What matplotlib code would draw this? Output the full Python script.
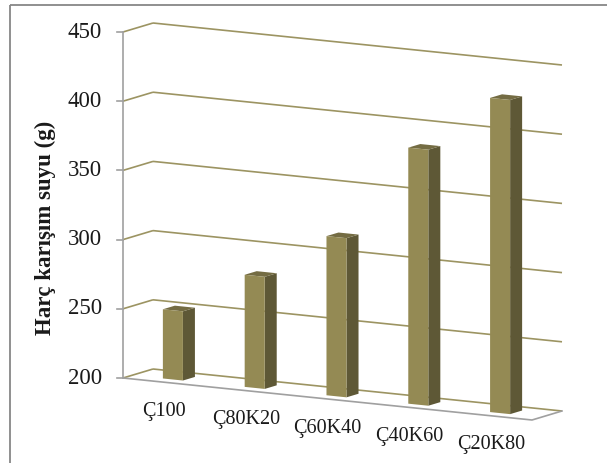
import numpy as np
import matplotlib.pyplot as plt
from matplotlib.patches import Polygon, Rectangle

# data
categories = ["Ç100", "Ç80K20", "Ç60K40", "Ç40K60", "Ç20K80"]
water = [250, 281, 315, 385, 427]
yticks = [200, 250, 300, 350, 400, 450]
ylabel = "Harç karışım suyu (g)"

# oblique "3D" projection in pixel space (Excel style column chart)
X0, Y0 = 123, 378          # front-left corner of the floor
CAT_DX, CAT_DY = 81.8, 8.4  # one category step
V_SCALE = 1.384            # px per unit
DEP_X, DEP_Y = 30, -9      # full depth step
VMIN = yticks[0]


def proj(c, v, d):
    c, v, d = np.broadcast_arrays(np.asarray(c, float), np.asarray(v, float),
                                  np.asarray(d, float))
    x = X0 + CAT_DX * c + DEP_X * d
    y = Y0 + CAT_DY * c - V_SCALE * (v - VMIN) + DEP_Y * d
    return np.column_stack([x, y])


front_col = "#948a54"
side_col = "#5e5836"
top_col = "#746c43"
grid_col = "#9c9462"
axis_col = "#a0a0a0"

plt.rcParams['font.family'] = ['Liberation Serif', 'DejaVu Serif']

fig = plt.figure(figsize=(6.07, 4.63), dpi=100)
ax = fig.add_axes([0, 0, 1, 1])
ax.set_xlim(0, 607)
ax.set_ylim(463, 0)
ax.axis('off')

# chart border
ax.add_patch(Rectangle((10, 5), 640, 500, fill=False, ec="#878787", lw=1.3))

n = len(categories)

# walls gridlines
for v in yticks:
    side = proj([0, 0], [v, v], [0, 1])
    back = proj([0, n], [v, v], [1, 1])
    ax.plot(side[:, 0], side[:, 1], color=grid_col, lw=1.2, solid_capstyle='butt')
    ax.plot(back[:, 0], back[:, 1], color=grid_col, lw=1.2, solid_capstyle='butt')

# floor front and right edges
floor = proj([0, n, n], [VMIN] * 3, [0, 0, 1])
ax.plot(floor[:, 0], floor[:, 1], color=axis_col, lw=1.2)

# value axis line + ticks
axl = proj([0, 0], [yticks[0], yticks[-1]], [0, 0])
ax.plot(axl[:, 0], axl[:, 1], color=axis_col, lw=1.2)
for v in yticks:
    p = proj(0, v, 0)[0]
    ax.plot([p[0] - 6, p[0]], [p[1], p[1]], color=axis_col, lw=1.2)
    ax.text(p[0] - 21, p[1], str(v), ha='right', va='center', fontsize=16.5,
            color="#1a1a1a")

# bars
bw = 0.245
d0, d1 = 0.3, 0.7
for i, val in enumerate(water):
    c0, c1 = i + 0.5 - bw / 2, i + 0.5 + bw / 2
    front = proj([c0, c1, c1, c0], [VMIN, VMIN, val, val], [d0] * 4)
    side = proj([c1, c1, c1, c1], [VMIN, VMIN, val, val], [d0, d1, d1, d0])
    top = proj([c0, c1, c1, c0], [val] * 4, [d0, d0, d1, d1])
    ax.add_patch(Polygon(side, closed=True, fc=side_col, ec="none", zorder=3))
    ax.add_patch(Polygon(top, closed=True, fc=top_col, ec="none", zorder=3))
    ax.add_patch(Polygon(front, closed=True, fc=front_col, ec="none", zorder=3))

# category labels
for i, lab in enumerate(categories):
    p = proj(i + 0.5, VMIN, 0)[0]
    ax.text(p[0], p[1] + 29, lab, ha='center', va='center', fontsize=14.5,
            color="#1a1a1a")

ax.text(45, 228, ylabel, rotation=90, ha='center', va='center',
        fontsize=16.5, fontweight='bold', color="#1a1a1a")

fig.savefig("out.png", dpi=100)
